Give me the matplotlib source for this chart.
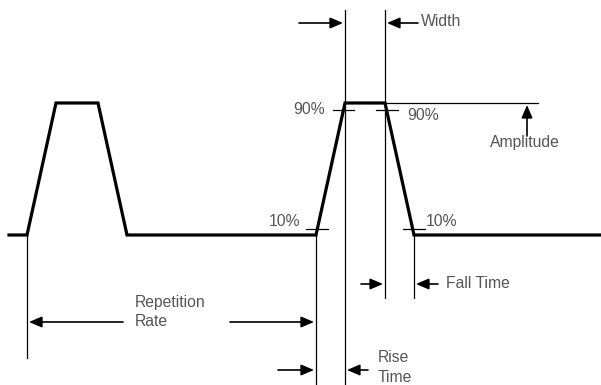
import matplotlib
matplotlib.use("Agg")
import matplotlib.pyplot as plt

# Pulse waveform (time position, level) in diagram units
wave_x = [9, 27, 56, 98, 127, 316, 345, 385, 414, 600]
wave_y = [235, 235, 103, 103, 235, 235, 103, 103, 235, 235]

# Thin reference lines: (x, y_top, y_bottom)
vlines = [(27, 235, 358), (316, 235, 384), (345, 10, 384), (385, 10, 298), (414, 235, 298)]

# Level ticks: (x0, x1, y)
level_ticks = [(333, 354, 110), (376, 398, 110), (306, 328, 229), (403, 425, 229)]

# Arrows: (x_start, y_start, x_end, y_end)
arrows = [
    (299, 23, 343, 23), (418, 23, 387, 23),          # Width
    (527, 136, 527, 105),                            # Amplitude
    (361, 284, 383, 284), (438, 284, 416, 284),      # Fall Time
    (123, 322, 29, 322), (230, 322, 314, 322),       # Repetition Rate
    (278, 370, 314, 370), (368, 370, 347, 370),      # Rise Time
]

# Labels: (x, y, text, ha)
labels = [
    (421, 22, "Width", "left"),
    (525, 143, "Amplitude", "center"),
    (325, 110, "90%", "right"),
    (407, 115, "90%", "left"),
    (300, 222, "10%", "right"),
    (426, 222, "10%", "left"),
    (446, 283, "Fall Time", "left"),
    (135, 302, "Repetition", "left"),
    (135, 322, "Rate", "left"),
    (378, 358, "Rise", "left"),
    (378, 377, "Time", "left"),
]

fig = plt.figure(figsize=(6.01, 3.85), dpi=100)
ax = fig.add_axes([0, 0, 1, 1])
ax.set_xlim(0, 601)
ax.set_ylim(385, 0)
ax.axis("off")

ax.plot(wave_x, wave_y, color="black", lw=2.3, solid_joinstyle="miter")

for x, y0, y1 in vlines:
    ax.plot([x, x], [y0, y1], color="black", lw=0.9)

# amplitude reference line
ax.plot([385, 538], [103, 103], color="black", lw=0.9)

for x0, x1, y in level_ticks:
    ax.plot([x0, x1], [y, y], color="black", lw=0.9)

for xs, ys, xe, ye in arrows:
    ax.annotate("", xy=(xe, ye), xytext=(xs, ys),
                arrowprops=dict(arrowstyle="-|>,head_length=0.7,head_width=0.3",
                                color="black", lw=1.2,
                                mutation_scale=11, shrinkA=0, shrinkB=0))

for x, y, t, ha in labels:
    ax.text(x, y, t, ha=ha, va="center", fontsize=11.3, color="#555555",
            family="Liberation Sans")

fig.savefig("out.png", dpi=100)
